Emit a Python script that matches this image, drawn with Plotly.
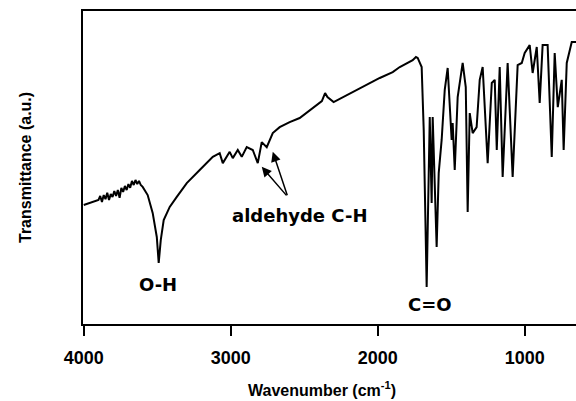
import plotly.graph_objects as go

# IR spectrum (wavenumber in cm^-1, transmittance in a.u. 0-100)
wavenumber = [4000, 3960, 3920, 3900, 3888, 3876, 3864, 3852, 3840, 3828, 3816, 3804,
              3792, 3780, 3768, 3756, 3744, 3732, 3720, 3708, 3696, 3684, 3672, 3660,
              3648, 3636, 3624, 3612, 3599, 3565, 3531, 3503, 3490, 3476, 3456, 3415,
              3367, 3299, 3211, 3122, 3075, 3054, 3007, 2986, 2952, 2925, 2891, 2850,
              2816, 2789, 2755, 2714, 2667, 2599, 2531, 2380, 2358, 2342, 2300, 2143,
              1986, 1898, 1850, 1762, 1740, 1728, 1701, 1687, 1667, 1646, 1633, 1626,
              1612, 1599, 1585, 1565, 1544, 1524, 1497, 1490, 1476, 1456, 1422, 1401,
              1388, 1374, 1354, 1327, 1306, 1286, 1252, 1224, 1204, 1190, 1170, 1150,
              1116, 1082, 1048, 1020, 1000, 966, 946, 918, 898, 878, 844, 816, 796,
              775, 748, 735, 714, 680, 651]
transmittance = [38.0, 38.7, 39.3, 39.6, 40.9, 39.0, 41.2, 39.9, 41.9, 39.6, 41.5, 40.6,
                 42.5, 40.9, 42.8, 40.3, 43.5, 42.2, 44.1, 42.8, 44.7, 43.5, 45.7, 44.4,
                 46.0, 44.7, 45.7, 44.4, 43.8, 41.2, 35.5, 27.8, 19.5, 26.8, 33.2, 37.4,
                 40.6, 45.0, 49.2, 53.4, 54.6, 51.4, 55.0, 53.0, 55.6, 53.4, 56.5, 55.6,
                 51.4, 58.1, 56.5, 61.0, 62.9, 64.5, 65.8, 71.2, 73.8, 72.5, 70.9, 74.8,
                 78.6, 80.5, 82.1, 84.3, 85.3, 85.0, 82.1, 62.0, 11.8, 66.1, 38.7, 66.1,
                 43.8, 24.6, 48.2, 58.8, 74.8, 81.8, 58.8, 64.2, 49.2, 72.5, 83.4, 75.7,
                 35.8, 67.4, 61.0, 62.9, 78.0, 82.1, 51.4, 77.0, 78.0, 55.6, 82.1, 47.0,
                 83.4, 47.0, 82.7, 83.4, 86.6, 89.1, 80.2, 88.5, 70.6, 89.1, 89.1, 53.4,
                 86.6, 69.3, 78.0, 55.6, 83.4, 90.1, 90.1]

tick_values = [4000, 3000, 2000, 1000]
tick_labels = ["4000", "3000", "2000", "1000"]

band_labels = ["O-H", "C=O", "aldehyde C-H"]
band_label_pos = [(3497, 12.5), (1646, 6.1), (2531, 34.8)]
aldehyde_arrow_tips = [(2789, 50.2), (2714, 55.0)]

fig = go.Figure()
fig.add_trace(go.Scatter(x=wavenumber, y=transmittance, mode="lines",
                         line=dict(color="black", width=2), showlegend=False,
                         hoverinfo="skip"))

annotations = []
for txt, (xv, yv) in zip(band_labels, band_label_pos):
    annotations.append(dict(x=xv, y=yv, xref="x", yref="y", text=f"<b>{txt}</b>",
                            showarrow=False, xanchor="center", yanchor="middle",
                            font=dict(family="DejaVu Sans", size=18, color="black")))
for (xv, yv), (axp, ayp) in zip(aldehyde_arrow_tips, [(26, 30), (15, 45)]):
    annotations.append(dict(x=xv, y=yv, xref="x", yref="y", text="", showarrow=True,
                            ax=axp, ay=ayp, arrowhead=2, arrowsize=1.3, arrowwidth=1.5,
                            arrowcolor="black", standoff=0, startstandoff=0))
# axis titles
annotations.append(dict(x=(322 - 83) / 493, y=-(389 - 324) / 313, xref="paper", yref="paper",
                        text="<b>Wavenumber (cm<sup>-1</sup>)</b>", showarrow=False,
                        xanchor="center", yanchor="middle",
                        font=dict(family="Liberation Sans, Arial", size=16, color="black")))
annotations.append(dict(x=-(83 - 25) / 493, y=(324 - 168) / 313, xref="paper", yref="paper",
                        text="<b>Transmittance (a.u.)</b>", showarrow=False, textangle=-90,
                        xanchor="center", yanchor="middle",
                        font=dict(family="Liberation Sans, Arial", size=16, color="black")))

fig.update_layout(
    width=576, height=401,
    margin=dict(l=83, r=0, t=11, b=77),
    paper_bgcolor="white", plot_bgcolor="white",
    annotations=annotations,
    xaxis=dict(range=[4005, 651], showgrid=False, zeroline=False,
               showline=True, linecolor="black", linewidth=1.5, mirror=True,
               ticks="outside", ticklen=10, tickwidth=1.5, tickcolor="black",
               ticklabelstandoff=7,
               tickvals=tick_values, ticktext=[f"<b>{t}</b>" for t in tick_labels],
               tickfont=dict(family="Liberation Sans, Arial", size=18, color="black")),
    yaxis=dict(range=[0, 100], showgrid=False, zeroline=False, showline=True,
               linecolor="black", linewidth=1.5, showticklabels=False, ticks=""),
)

fig.write_html("out.html", config={"displayModeBar": False},
               post_script="document.body.style.margin='0px';document.body.style.overflow='hidden';")
